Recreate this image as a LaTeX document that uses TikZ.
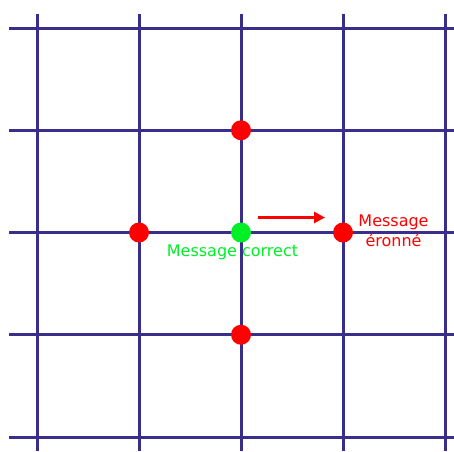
\documentclass[tikz,border=0pt]{standalone}
\usepackage{fontspec}
\setmainfont{DejaVu Sans}
\usetikzlibrary{arrows.meta}
\definecolor{gridblue}{RGB}{58,46,140}
\definecolor{dotred}{RGB}{255,0,0}
\definecolor{dotgreen}{RGB}{0,240,40}
\begin{document}
\begin{tikzpicture}[x=1pt,y=-1pt,
  gridline/.style={draw=gridblue,line width=3pt},
  dot/.style={circle,inner sep=0pt,minimum size=20pt},
  lbl/.style={font=\fontsize{16}{20}\selectfont,inner sep=0pt}]
\useasboundingbox (0,0) rectangle (454,451);
% vertical lines
\foreach \x in {37,139,241,343,445} \draw[gridline] (\x,14) -- (\x,451);
% horizontal lines
\foreach \y in {28,130.25,232.5,334.75,437} \draw[gridline] (9,\y) -- (454,\y);
% dots
\node[dot,fill=dotred] (top) at (241,130.25) {};
\node[dot,fill=dotred] (left) at (139,232.5) {};
\node[dot,fill=dotred] (bottom) at (241,334.75) {};
\node[dot,fill=dotred] (right) at (343,232.5) {};
\node[dot,fill=dotgreen] (center) at (241,232.5) {};
% labels
\node[lbl,text=dotgreen,anchor=base] (ok) at (232.5,256) {Message correct};
\node[lbl,text=dotred,align=center,anchor=base] (err) at (393.5,246) {Message\\éronné};
% arrow
\coordinate (a1) at (258,217.5);
\coordinate (a2) at (325,217.5);
\draw[draw=dotred,line width=3.5pt,-{Triangle[length=11pt,width=11pt]}] (a1) -- (a2);
\end{tikzpicture}
\end{document}
